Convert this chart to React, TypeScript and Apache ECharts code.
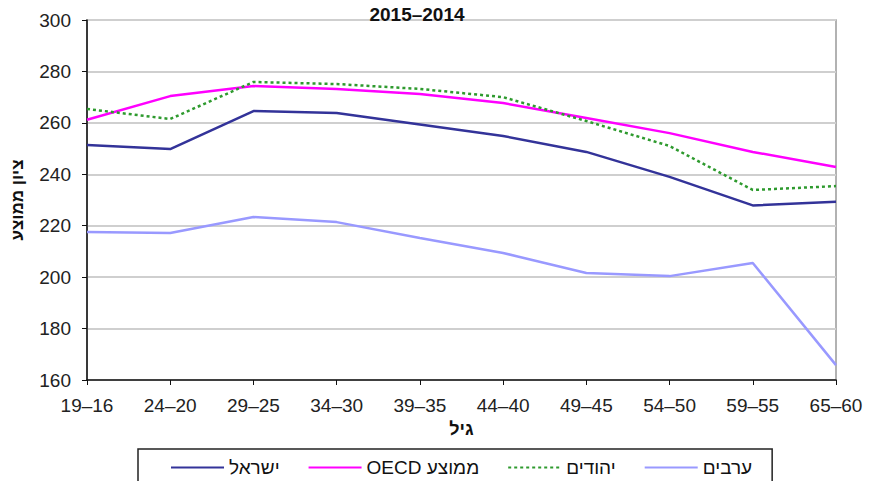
import React, { useEffect, useRef } from "react";
import * as echarts from "echarts";

const categories = ["19–16", "24–20", "29–25", "34–30", "39–35", "44–40", "49–45", "54–50", "59–55", "65–60"];
const israel = [251.4, 249.8, 264.6, 263.8, 259.4, 254.9, 248.7, 239.0, 227.9, 229.3];
const oecd = [261.2, 270.4, 274.3, 273.2, 271.2, 267.7, 261.9, 256.0, 248.7, 242.8];
const jews = [265.4, 261.5, 275.9, 275.1, 273.2, 270.0, 260.7, 251.0, 233.9, 235.4];
const arabs = [217.6, 217.2, 223.4, 221.4, 215.2, 209.4, 201.6, 200.4, 205.5, 165.8];
const seriesNames = ["ישראל", "OECD ממוצע", "יהודים", "ערבים"];
const title = "2015–2014";
const yName = "ציון ממוצע";
const xName = "גיל";

export default function App() {
  const ref = useRef<HTMLDivElement>(null);
  useEffect(() => {
    if (!ref.current) return;
    const chart = echarts.init(ref.current, null, { renderer: "svg" });
    const font = "Liberation Sans, Arial, sans-serif";
    const mk = (name: string, data: number[], color: string, type: any = "solid") => ({
      name,
      type: "line",
      data,
      symbol: "none",
      showSymbol: false,
      lineStyle: { color, width: 2.5, type },
      itemStyle: { color },
    });
    chart.setOption({
      animation: false,
      backgroundColor: "#fff",
      title: {
        text: title,
        left: 412,
        top: 0,
        textAlign: "center",
        textStyle: { fontFamily: font, fontSize: 19, fontWeight: "bold", color: "#111" },
      },
      grid: {
        left: 87,
        right: 36,
        top: 20,
        bottom: 101,
        containLabel: false,
        outerBoundsMode: "none",
        show: true,
        borderColor: "#999",
        borderWidth: 1.5,
      },
      legend: {
        left: 138,
        top: 449,
        width: 644,
        padding: [9, 20, 30, 32],
        borderColor: "#222",
        borderWidth: 1.5,
        itemWidth: 53,
        itemHeight: 12,
        itemGap: 28,
        itemStyle: { opacity: 0 },
        textStyle: { fontFamily: font, fontSize: 19, color: "#111" },
        data: seriesNames,
      },
      xAxis: {
        type: "category",
        data: categories,
        boundaryGap: false,
        name: xName,
        nameLocation: "middle",
        nameGap: 40,
        nameTextStyle: { fontFamily: font, fontSize: 18, fontWeight: "bold", color: "#111" },
        axisLine: { lineStyle: { color: "#111", width: 1.5 } },
        axisTick: { show: true, alignWithLabel: true, length: 5, lineStyle: { color: "#111" } },
        axisLabel: { fontFamily: font, fontSize: 19, color: "#222", margin: 16 },
      },
      yAxis: {
        type: "value",
        min: 160,
        max: 300,
        interval: 20,
        name: yName,
        nameLocation: "middle",
        nameGap: 61,
        nameTextStyle: { fontFamily: font, fontSize: 17, fontWeight: "bold", color: "#111" },
        axisLine: { show: true, lineStyle: { color: "#111", width: 1.5 } },
        axisTick: { show: true, length: 5, lineStyle: { color: "#111" } },
        axisLabel: { fontFamily: font, fontSize: 19, color: "#222", margin: 16 },
        splitLine: { lineStyle: { color: "#cfcfcf", width: 2 } },
      },
      series: [
        mk(seriesNames[0], israel, "#333399"),
        mk(seriesNames[1], oecd, "#ff00ff"),
        mk(seriesNames[2], jews, "#2e9a2e", [3, 3]),
        mk(seriesNames[3], arabs, "#9999ff"),
      ],
    });
    return () => chart.dispose();
  }, []);
  return <div ref={ref} style={{ position: "fixed", left: 0, top: 0, width: 872, height: 481 }} />;
}
